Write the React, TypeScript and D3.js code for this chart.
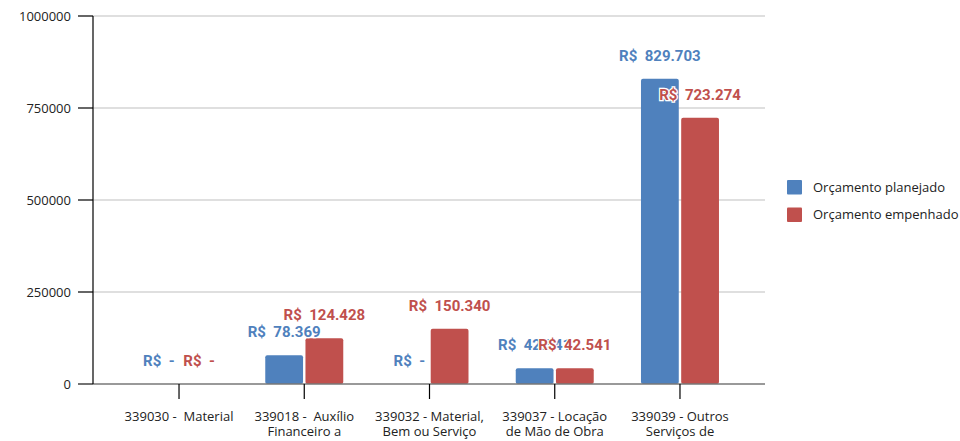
import { useEffect, useRef } from 'react';
import * as d3 from 'd3';

const categories = ['339030', '339018', '339032', '339037', '339039'];
const categoryLabels = [
  ['339030 -  Material'],
  ['339018 -  Auxílio', 'Financeiro a', 'Estudantes'],
  ['339032 - Material,', 'Bem ou Serviço', 'para Distribuição'],
  ['339037 - Locação', 'de Mão de Obra'],
  ['339039 - Outros', 'Serviços de', 'Terceiros - PJ'],
];
const seriesNames = ['Orçamento planejado', 'Orçamento empenhado'];
const planejado = [0, 78369, 0, 42541, 829703];
const empenhado = [0, 124428, 150340, 42541, 723274];
const yTicks = [0, 250000, 500000, 750000, 1000000];

const colors = ['#4f81bd', '#c0504d'];

export default function App() {
  const svgRef = useRef<SVGSVGElement>(null);

  useEffect(() => {
    if (!svgRef.current) return;
    const svg = d3.select(svgRef.current);
    svg.selectAll('*').remove();

    const left = 93;
    const right = 765;
    const top = 16;
    const bottom = 384;
    const axisFont = "'Open Sans', sans-serif";
    const labelFont = 'Roboto, sans-serif';

    const y = d3.scaleLinear().domain([0, 1000000]).range([bottom, top]);
    const x = d3.scaleBand<string>().domain(categories).range([116.4, 742.6]);
    const x1 = d3.scaleBand<number>().domain([0, 1]).range([-39, 39]).paddingInner(0.06);

    const br = d3.formatLocale({ decimal: ',', thousands: '.', grouping: [3], currency: ['R$', ''] });
    const fmt = br.format(',d');
    const money = (v: number) => (v === 0 ? 'R$  -' : `R$  ${fmt(v)}`);

    // grid
    svg.append('g')
      .selectAll('line')
      .data(yTicks.filter(t => t > 0))
      .join('line')
      .attr('x1', left)
      .attr('x2', right)
      .attr('y1', d => y(d))
      .attr('y2', d => y(d))
      .attr('stroke', '#d4d4d4')
      .attr('stroke-width', 1.5);

    // y ticks + labels
    const yt = svg.append('g');
    yt.selectAll('line')
      .data(yTicks)
      .join('line')
      .attr('x1', 78)
      .attr('x2', left)
      .attr('y1', d => y(d))
      .attr('y2', d => y(d))
      .attr('stroke', '#000')
      .attr('stroke-width', 1.2);
    yt.selectAll('text')
      .data(yTicks)
      .join('text')
      .attr('x', 71)
      .attr('y', d => y(d))
      .attr('dy', '0.35em')
      .attr('text-anchor', 'end')
      .attr('font-family', axisFont)
      .attr('font-size', 13)
      .attr('fill', '#222')
      .text(d => String(d));

    // bars
    const series = [planejado, empenhado];
    series.forEach((vals, si) => {
      svg.append('g')
        .selectAll('rect')
        .data(vals.map((v, i) => ({ v, c: categories[i] })))
        .join('rect')
        .attr('x', d => (x(d.c) ?? 0) + x.bandwidth() / 2 + (x1(si) ?? 0))
        .attr('y', d => y(d.v))
        .attr('width', x1.bandwidth())
        .attr('height', d => bottom - y(d.v))
        .attr('rx', d => (d.v > 0 ? 2 : 0))
        .attr('fill', colors[si]);
    });

    // x axis
    svg.append('line')
      .attr('x1', 78)
      .attr('x2', right)
      .attr('y1', bottom)
      .attr('y2', bottom)
      .attr('stroke', '#777')
      .attr('stroke-width', 1.5);
    svg.append('line')
      .attr('x1', left)
      .attr('x2', left)
      .attr('y1', top)
      .attr('y2', bottom)
      .attr('stroke', '#000')
      .attr('stroke-width', 1.2);

    const xt = svg.append('g')
      .selectAll('g')
      .data(categories)
      .join('g')
      .attr('transform', d => `translate(${(x(d) ?? 0) + x.bandwidth() / 2},0)`);
    xt.append('line')
      .attr('y1', bottom)
      .attr('y2', 399)
      .attr('stroke', '#000')
      .attr('stroke-width', 1.2);
    xt.append('text')
      .attr('text-anchor', 'middle')
      .attr('font-family', axisFont)
      .attr('font-size', 13)
      .attr('fill', '#222')
      .style('white-space', 'pre')
      .selectAll('tspan')
      .data((_, i) => categoryLabels[i])
      .join('tspan')
      .attr('x', 0)
      .attr('y', (_, j) => 421 + j * 15)
      .text(d => d);

    // data labels
    series.forEach((vals, si) => {
      svg.append('g')
        .selectAll('text')
        .data(vals.map((v, i) => ({ v, c: categories[i] })))
        .join('text')
        .attr('x', d => (x(d.c) ?? 0) + x.bandwidth() / 2 + (x1(si) ?? 0) + x1.bandwidth() / 2)
        .attr('y', d => y(d.v) - 18)
        .attr('text-anchor', 'middle')
        .attr('font-family', labelFont)
        .attr('font-weight', 700)
        .attr('font-size', 15)
        .attr('fill', colors[si])
        .attr('stroke', '#fff')
        .attr('stroke-width', 2.5)
        .attr('paint-order', 'stroke')
        .style('white-space', 'pre')
        .text(d => money(d.v));
    });

    // legend
    const lg = svg.append('g')
      .selectAll('g')
      .data(seriesNames)
      .join('g')
      .attr('transform', (_, i) => `translate(787,${180 + i * 27.5})`);
    lg.append('rect')
      .attr('width', 15)
      .attr('height', 14.5)
      .attr('rx', 1)
      .attr('fill', (_, i) => colors[i]);
    lg.append('text')
      .attr('x', 26)
      .attr('y', 11.5)
      .attr('font-family', axisFont)
      .attr('font-size', 13)
      .attr('fill', '#222')
      .text(d => d);
  }, []);

  return (
    <svg
      ref={svgRef}
      width={960}
      height={441}
      style={{ position: 'absolute', left: 0, top: 0, background: '#fff' }}
    />
  );
}
